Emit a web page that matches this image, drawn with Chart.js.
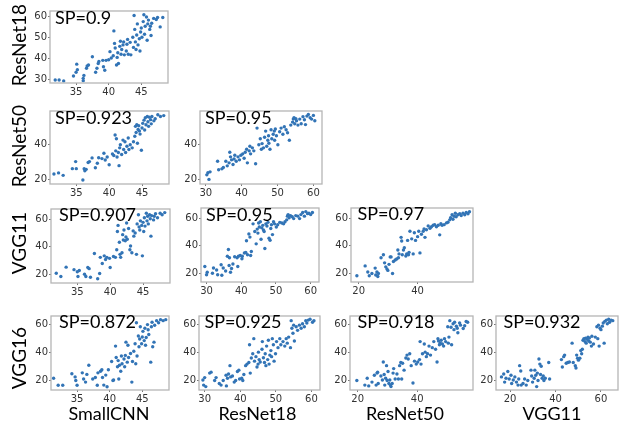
<!DOCTYPE html>
<html>
<head>
<meta charset="utf-8">
<script src="https://cdn.jsdelivr.net/npm/chart.js@4.4.0/dist/chart.umd.min.js"></script>
<style>
body { margin: 0; width: 622px; height: 423px; position: relative; background: #fff; overflow: hidden; font-family: Lato, sans-serif; }
.plot { position: absolute; }
.sp { position: absolute; font-size: 18px; line-height: 18px; color: #000; white-space: nowrap; }
.rowlab { position: absolute; font-size: 19px; line-height: 19px; color: #000; white-space: nowrap; transform: translate(-50%, -50%) rotate(-90deg); }
.collab { position: absolute; font-size: 18px; line-height: 18px; color: #000; white-space: nowrap; transform: translateX(-50%); }
</style>
</head>
<body>
<script>
// Model names (rows / columns of the triangle)
const models = ['SmallCNN', 'ResNet18', 'ResNet50', 'VGG11', 'VGG16'];

// Axis limits per model
const smallcnnRange = [31.0, 49.1];
const resnet18Range = [28.4, 62.4];
const resnet50Range = [17.4, 58.8];
const vgg11Range = [13.8, 67.5];
const vgg16Range = [13.3, 65.9];

// Tick values per model
const smallcnnTicks = [35, 40, 45];
const resnet18Ticks = [30, 40, 50, 60];
const resnet50Ticks = [20, 40];
const vgg11Ticks = [20, 40, 60];
const vgg16Ticks = [20, 40, 60];

// Spearman values shown in each panel
const spValues = ['0.9', '0.923', '0.95', '0.907', '0.95', '0.97', '0.872', '0.925', '0.918', '0.932'];

// Scatter points [x, y]
const smallcnnVsResnet18 = [[31.8,29.8],[32.4,29.8],[33.1,29.4],[34.6,31.7],[35,33.5],[35.1,37.3],[35.2,34.7],[36.1,29.5],[36.1,30.6],[36.2,32],[36.6,35.4],[36.7,36.4],[36.9,36.9],[37.5,40.8],[38,33.5],[38.2,35.4],[38.4,37.6],[38.5,38.6],[39.1,39.1],[39.2,36.1],[39.4,34.4],[39.6,39.1],[40,39.4],[40.2,43.2],[40.4,40.2],[40.7,41.3],[40.8,53],[40.9,47.1],[41,44.9],[41.2,36.9],[41.3,40.5],[41.4,42.7],[41.5,37.6],[41.7,45.7],[41.8,48.1],[41.9,42],[42,44.2],[42.2,46.4],[42.3,47.8],[42.4,41.7],[42.7,43.5],[42.8,46.7],[42.9,49],[43,42],[43.3,47.6],[43.4,41.7],[43.7,50],[43.8,45.2],[43.9,60.3],[44,53.7],[44.1,47.8],[44.2,44.2],[44.3,51.1],[44.4,56.3],[44.5,46.4],[44.7,49.3],[44.8,43.5],[44.9,52.5],[45,54.4],[45.1,50],[45.3,57.4],[45.4,60.6],[45.5,51.4],[45.6,55.2],[45.8,59.6],[45.9,48.6],[46,56.3],[46.1,58.1],[46.3,53.7],[46.4,55.2],[46.5,50.8],[46.6,56.6],[46.9,58.9],[47.3,58.4],[47.5,59.3],[47.9,54.9],[48.3,59.3]];

const smallcnnVsResnet50 = [[31.6,23.1],[32.3,23.7],[33,22.3],[34.4,26.1],[34.9,30.1],[35,26.1],[36,19.7],[36.2,26.1],[36.3,24.9],[36.5,25.7],[36.8,29.6],[37,30.1],[37.4,32.2],[37.9,26.6],[38.2,29.2],[38.4,32.3],[38.9,31.8],[39.2,34.8],[39.4,31],[39.7,32.7],[40,28.3],[40.5,34.4],[40.7,33.6],[40.9,45.2],[41,36.2],[41.1,43.1],[41.2,32.7],[41.4,35.3],[41.5,27.8],[41.6,37.9],[41.7,39.7],[41.9,34.1],[42.1,42.3],[42.2,37],[42.4,41.4],[42.5,35.3],[42.7,38.8],[42.9,43.5],[43,37],[43.2,39.7],[43.5,37.9],[43.7,41.4],[43.9,44.5],[44,50.1],[44.1,46.6],[44.2,51],[44.3,40.5],[44.4,48.3],[44.5,50.4],[44.6,47.5],[44.7,45.7],[44.9,36.5],[45,49.2],[45.1,51.8],[45.3,53.6],[45.4,48],[45.5,55],[45.6,51],[45.8,55.7],[45.9,52.7],[46,50.1],[46.1,55.3],[46.3,53.9],[46.4,51.5],[46.5,55.7],[46.8,53.2],[47,54.4],[47.4,56.7],[47.8,55.7],[48.3,56.2]];

const resnet18VsResnet50 = [[30.3,22.6],[30.6,23.8],[30.9,20],[31.2,24.3],[33.3,30.3],[33.6,25.5],[34.5,26],[34.9,26.8],[35.6,30.3],[36,27.7],[36.5,29.4],[36.7,35.4],[36.9,32.8],[37.2,31.1],[37.6,28.5],[37.9,31.6],[38.1,33.7],[38.5,30.3],[39,32.8],[39.4,31.1],[39.8,33.7],[40.3,34.5],[40.7,32],[41,35.4],[41.4,37.1],[41.6,29.4],[42.1,36.2],[42.3,38.8],[42.5,34.5],[43,37.9],[43.4,36.2],[43.9,28.9],[44.3,49.1],[44.8,39.7],[45.2,43.1],[45.5,37.1],[45.7,40.3],[46.1,37.9],[46.4,43.9],[46.7,47.4],[47,38.8],[47.3,42.2],[47.5,44.8],[47.6,40.5],[47.9,37.1],[48.2,48.2],[48.4,43.1],[48.8,45.6],[49.1,47.4],[49.2,42.2],[49.4,48.6],[49.7,44.8],[50.1,39.7],[50.6,47],[51,49.1],[51.5,45.6],[51.9,49.9],[52.4,48.2],[52.8,46.5],[53.3,42.2],[53.7,50.8],[54.2,52.5],[54.4,54.2],[54.6,55],[54.8,51.6],[55.1,54.5],[55.3,53.3],[55.7,50.8],[56.2,54.2],[56.6,51.6],[57.1,55.6],[57.5,53.8],[57.8,51.1],[58.2,55.9],[58.6,56.8],[59.1,55],[59.5,54.2],[60,56.3],[60.4,53.3]];

const smallcnnVsVgg11 = [[31.8,20.9],[32.5,18.5],[33.3,25.3],[34.5,23.5],[35,22],[35.1,18.5],[35.3,22.9],[36.1,20.2],[36.3,18.5],[36.6,25.1],[36.8,24.2],[37,18],[37.6,35.2],[38.1,16.9],[38.4,20.7],[38.5,32.4],[38.8,28],[39.1,33.5],[39.3,30.8],[39.5,32.4],[39.9,31.7],[40,25.1],[40.5,33],[40.8,32.4],[41,37.9],[41.1,51.2],[41.2,55.6],[41.4,43.4],[41.5,34.6],[41.6,32.4],[41.8,35.7],[41.9,48.9],[42,45],[42.1,52.3],[42.3,44.5],[42.4,47.2],[42.5,57.3],[42.6,45.6],[42.8,53.4],[43,37.9],[43.1,40.6],[43.3,35.7],[43.5,51.6],[43.6,47.8],[43.8,50.1],[44,34.6],[44.1,56.7],[44.3,63.3],[44.4,54.5],[44.5,52.3],[44.6,58.9],[44.8,55.6],[44.9,33.5],[45,57.8],[45.1,51.2],[45.2,61.1],[45.3,55.1],[45.5,64.4],[45.6,58.9],[45.7,62.2],[45.8,56.7],[46,63.3],[46.1,60.4],[46.2,47.8],[46.3,62.7],[46.6,59.6],[46.7,62.2],[46.9,64],[47.2,61.1],[47.6,64.4],[47.9,63.3],[48.3,64.9]];

const resnet18VsVgg11 = [[29.5,25.1],[30,19.1],[30.2,20.9],[31.7,20.2],[32,24],[32.9,22.5],[33.2,19.1],[34.2,26.3],[34.4,18.7],[34.8,24],[35.5,21.8],[36,32.5],[36.3,37.4],[36.5,25.8],[36.6,31.4],[36.9,20.9],[37.2,23.6],[37.6,26.9],[38.1,32.1],[38.8,31.4],[39,25.1],[39.2,32.5],[39.7,33],[40.2,30.7],[40.3,32.5],[40.9,34.8],[41.3,35.2],[41.5,43.7],[41.8,33.6],[42.2,48.6],[42.5,46.4],[42.7,33],[42.9,35.9],[43.4,56],[43.9,50.4],[44.3,41.5],[44.6,52.2],[44.8,49.3],[45,56.6],[45.2,53.7],[45.5,57.5],[45.7,44.8],[45.9,53.1],[46.2,54.9],[46.4,51.5],[46.6,50.4],[46.8,38.1],[47.1,56],[47.4,54.4],[47.7,57.1],[48,45.5],[48.3,44.1],[48.5,52.6],[48.7,55.3],[49,48.2],[49.3,57.5],[49.6,56],[50.1,53.7],[50.5,55.3],[51.1,57.1],[51.7,56.6],[52.2,56],[52.6,57.5],[53.1,58.9],[53.3,61.6],[53.5,62.7],[53.8,60.4],[54.2,62],[54.7,61.1],[55.1,59.8],[55.7,62],[56.3,61.6],[56.8,59.8],[57.2,62.7],[57.7,64.2],[58.2,61.6],[58.6,64.9],[59.1,63.4],[59.5,63.8],[60,62.7],[60.5,64.2]];

const resnet50VsVgg11 = [[19.4,18.3],[22.2,25.5],[23.1,21.1],[23.6,18.3],[24.5,20],[25.6,23.9],[25.8,18.9],[26.2,21.1],[26.5,17.8],[26.7,20],[27.6,31.4],[28.4,33.6],[28.8,27.7],[29.2,24.8],[29.6,23.3],[29.9,22.2],[30.3,26.6],[30.7,32],[31,32],[31.5,20],[31.8,28.7],[32.4,29.8],[32.9,30.5],[33.3,37],[33.5,31.4],[33.7,34.2],[34.4,46.2],[34.6,43.6],[34.8,33.6],[35.2,37],[35.5,38.6],[36,32.7],[36.3,34.2],[36.6,44],[36.9,33.6],[37.1,35.3],[37.4,50.6],[38,45.1],[38.5,34.2],[38.9,49.5],[39.3,44],[40,46.7],[40.4,50.6],[40.8,34.9],[41.3,48.4],[41.9,50.6],[42.2,52.3],[42.5,46.2],[43,51.7],[43.6,54.5],[44.2,52.8],[44.7,53.9],[45.3,55],[45.8,55.4],[46.4,53.9],[47,55],[47.5,48],[47.9,56.1],[48.3,55],[49,55.4],[49.8,56.7],[50.3,57.2],[50.9,58.9],[51.2,60.4],[51.7,62.6],[52,59.3],[52.4,61.5],[52.8,63.7],[53.1,61.1],[53.7,62.6],[54.3,63.3],[54.8,62],[55.4,63.7],[56,62.6],[56.5,64.2],[57.1,63.3],[57.6,64.8]];

const smallcnnVsVgg16 = [[31.4,21.7],[32.1,16.7],[32.8,16.7],[34.2,24.8],[34.7,22.6],[34.8,20],[35,16.7],[35.8,25.5],[36,21.1],[36.3,18.9],[36.5,24.4],[36.8,30.9],[37.4,21.1],[37.8,22.2],[38.1,16.7],[38.2,25.5],[38.6,26.6],[38.8,27.7],[38.9,22.2],[39.1,16.8],[39.4,23.9],[39.6,15.6],[39.8,27.7],[40.3,33.6],[40.5,20],[40.6,20.4],[40.9,44.5],[41,36.4],[41.2,29.8],[41.3,34.2],[41.4,21.1],[41.5,30.9],[41.7,26.6],[41.8,37.5],[41.9,32],[42.2,35.3],[42.3,29.8],[42.4,37.9],[42.5,47.3],[42.7,33.1],[42.8,45.1],[42.9,36.4],[43.2,39.2],[43.4,18.9],[43.5,33.6],[43.7,40.8],[43.9,46.2],[44,32],[44.1,61.1],[44.2,37.5],[44.4,51.7],[44.5,44],[44.6,49.5],[44.7,58.3],[44.9,46.2],[45,51],[45.1,55],[45.3,48.4],[45.4,57.2],[45.5,45.1],[45.6,50.6],[45.8,59.8],[45.9,56.1],[46,52.8],[46.3,33.1],[46.4,58.3],[46.5,61.5],[46.6,44],[46.8,47.3],[46.9,59.3],[47.2,62.6],[47.5,61.1],[47.8,63.3],[48.2,62.6],[48.6,63.3]];

const resnet18VsVgg16 = [[29.5,20.4],[29.7,16.8],[30,22.1],[30.3,15.7],[31.4,25.3],[31.8,26],[32.8,20],[33.2,22.1],[34.1,17.9],[34.6,16.8],[35.2,20],[36,23.8],[36.1,16.2],[36.4,21.7],[36.7,24.7],[37.1,30.6],[37.3,22.6],[37.8,23.2],[38.3,18.9],[38.7,20],[39.2,26.4],[39.6,27.4],[39.8,21.1],[40.4,21.7],[40.7,20],[41,24.3],[41.5,30.6],[41.9,31.7],[42.4,32.8],[42.6,45.5],[42.8,25.3],[43.1,36],[43.5,39.1],[43.8,49.8],[44,33.8],[44.4,37],[44.7,29.6],[45,31.7],[45.1,40.2],[45.3,34.9],[45.6,33.2],[46.1,42.3],[46.2,47.7],[46.5,36.2],[46.8,32.8],[47,39.1],[47.2,30.6],[47.4,44.5],[47.7,34.9],[47.9,48.7],[48.1,31.7],[48.3,38.1],[48.6,41.3],[48.8,37],[49,49.8],[49.3,45.5],[49.5,33.8],[49.9,39.1],[50.2,47.7],[50.6,43.4],[51.1,49.8],[51.4,45.5],[52,47.7],[52.5,44.5],[52.9,49.8],[53.2,46.6],[53.6,50.9],[54.1,43.4],[54.3,62.6],[54.5,57.2],[54.8,53.6],[55,59.4],[55.2,48.1],[55.7,58.3],[56.1,55.7],[56.6,59.4],[57.1,57.2],[57.5,60.4],[58,58.3],[58.4,62.6],[58.7,60.9],[59.1,63],[59.6,63.6],[60.3,61.5],[60.7,62.6]];

const resnet50VsVgg16 = [[19.7,20],[22.4,16.8],[23.2,21.7],[23.7,16.2],[24.8,18.9],[25.6,23.8],[26.2,16.8],[26.5,25.3],[26.7,26],[26.9,17.9],[27.8,23.2],[28.3,20.4],[28.6,33.2],[28.9,24.3],[29.1,16.8],[29.4,21.7],[29.7,30.6],[29.9,20],[30.2,26.4],[30.5,17.9],[30.8,20.4],[31,16.8],[31.2,15.7],[31.6,17.9],[31.9,25.3],[32.1,28.5],[32.6,21.1],[33.2,24.7],[33.7,21.1],[34.1,30.6],[34.5,32.8],[34.8,21.1],[35.1,32.3],[35.6,27.4],[36.2,36],[36.6,38.1],[37,35.3],[37.5,39.1],[38,30.6],[38.6,18.3],[39.1,33.8],[39.7,31.7],[40.2,33.2],[40.8,34.9],[41,47.7],[41.3,31.7],[41.8,39.1],[42.4,46],[42.7,40.2],[43.1,37],[43.5,39.1],[44,44.5],[44.5,38.1],[45.1,43.4],[45.6,47.7],[46.2,42.3],[46.7,33.2],[47,49.8],[47.2,48.1],[47.5,45.5],[47.8,46.6],[48.1,48.7],[48.5,46],[48.9,44.5],[49.2,49.8],[49.6,47.7],[50.3,58.3],[50.5,46.6],[50.7,50.9],[51,62.6],[51.4,57.9],[51.6,45.5],[52.1,60.4],[52.4,56.2],[52.6,61.5],[53.2,58.7],[53.5,57.2],[53.7,54],[54.3,60.9],[54.6,59.4],[55.5,57],[56,59],[56.5,62],[57,61.5]];

const vgg11VsVgg16 = [[16.2,22.6],[17.2,24.7],[17.6,18.9],[18.2,21.7],[19,26.4],[19.6,21.1],[20.4,23.8],[20.7,17.9],[21.4,20.4],[22.1,22.6],[22.8,18.9],[23.5,16.8],[23.8,21.1],[24.2,30.6],[24.7,26.8],[24.9,16.8],[25.7,17.9],[26.4,21.1],[27.1,16.8],[27.8,20],[29.2,27.4],[29.5,23.2],[29.9,18.9],[30.6,21.7],[30.9,27.4],[31.3,23.8],[31.7,15.7],[32,25.3],[32.3,20],[32.7,35.3],[33.1,31.7],[33.4,24.3],[33.7,30.2],[34.1,21.7],[34.6,23.2],[34.9,20],[35.5,21.7],[37,32.8],[37.4,21.1],[42.6,34.9],[43,29.6],[43.6,37],[44,38.1],[44.7,32.3],[45.4,32.8],[46.1,33.2],[47.3,46.6],[47.8,32.8],[48.7,30.6],[49,28.9],[49.3,38.1],[49.7,35.9],[50.1,34.5],[50.7,35.9],[51.1,41.3],[51.5,39.1],[51.8,42.3],[52.1,48.7],[52.5,49.8],[53,47.7],[53.2,50.2],[53.5,46.6],[53.9,49.4],[54.3,50.9],[54.6,48.1],[54.9,50.2],[55.3,47.3],[55.8,44.5],[56,51.5],[56.7,46],[57.5,50.9],[58.2,58.3],[58.6,49.8],[58.9,59.4],[59.2,44.5],[59.6,57.2],[60,56.2],[60.6,58.7],[61,60.9],[61.4,46.6],[61.7,62.1],[62.4,63],[62.8,60.4],[63.4,63.6],[63.8,61.5],[64.5,63],[65.2,62.6]];

// Panel layout: plot box [left, top, right, bottom] in px and SP label offset
const panels = [
  { pts: smallcnnVsResnet18, xr: smallcnnRange, yr: resnet18Range, xt: smallcnnTicks, yt: resnet18Ticks, box: [50, 5, 171, 83], sp: [5, 2.5] },
  { pts: smallcnnVsResnet50, xr: smallcnnRange, yr: resnet50Range, xt: smallcnnTicks, yt: resnet50Ticks, box: [50, 105, 172, 184], sp: [5, 2.5] },
  { pts: resnet18VsResnet50, xr: resnet18Range, yr: resnet50Range, xt: resnet18Ticks, yt: resnet50Ticks, box: [200, 105, 325, 184], sp: [5, 2.5] },
  { pts: smallcnnVsVgg11, xr: smallcnnRange, yr: vgg11Range, xt: smallcnnTicks, yt: vgg11Ticks, box: [51, 203, 173, 283], sp: [8, 1.5] },
  { pts: resnet18VsVgg11, xr: resnet18Range, yr: vgg11Range, xt: resnet18Ticks, yt: vgg11Ticks, box: [201, 202, 322, 282], sp: [5, 2.5] },
  { pts: resnet50VsVgg11, xr: resnet50Range, yr: vgg11Range, xt: resnet50Ticks, yt: vgg11Ticks, box: [351, 202, 476, 282], sp: [6.5, 2] },
  { pts: smallcnnVsVgg16, xr: smallcnnRange, yr: vgg16Range, xt: smallcnnTicks, yt: vgg16Ticks, box: [51, 310, 172, 390], sp: [8, 2] },
  { pts: resnet18VsVgg16, xr: resnet18Range, yr: vgg16Range, xt: resnet18Ticks, yt: vgg16Ticks, box: [199, 310, 323, 390], sp: [5.5, 2] },
  { pts: resnet50VsVgg16, xr: resnet50Range, yr: vgg16Range, xt: resnet50Ticks, yt: vgg16Ticks, box: [350, 310, 476, 390], sp: [7.5, 2] },
  { pts: vgg11VsVgg16, xr: vgg11Range, yr: vgg16Range, xt: vgg11Ticks, yt: vgg16Ticks, box: [496, 310, 621, 390], sp: [7.5, 2] }
];

// Row labels (rotated) and column labels
const rowLabels = [[models[1], 17.5, 45], [models[2], 17.5, 146], [models[3], 17.5, 242.5], [models[4], 17.5, 358]];
const colLabels = [[models[0], 109, 404], [models[1], 257.5, 404], [models[2], 405, 404], [models[3], 552, 404]];

// Light grey frame round the plot area
const framePlugin = {
  id: 'frame',
  afterDraw(chart) {
    const a = chart.chartArea, ctx = chart.ctx;
    ctx.save();
    ctx.strokeStyle = '#b5b5b5';
    ctx.lineWidth = 1.3;
    ctx.strokeRect(a.left, a.top, a.right - a.left, a.bottom - a.top);
    ctx.restore();
  }
};

const yAxisW = 30, xAxisH = 16, padT = 1, padR = 1;
const tickFont = { family: 'DejaVu Sans', size: 10 };

panels.forEach((p, i) => {
  const [l, t, r, b] = p.box;
  const div = document.createElement('div');
  div.className = 'plot';
  div.style.left = (l - yAxisW) + 'px';
  div.style.top = (t - padT) + 'px';
  div.style.width = (r - l + yAxisW + padR) + 'px';
  div.style.height = (b - t + padT + xAxisH) + 'px';
  const canvas = document.createElement('canvas');
  div.appendChild(canvas);
  document.body.appendChild(div);

  new Chart(canvas, {
    type: 'scatter',
    data: {
      datasets: [{
        data: p.pts.map(([x, y]) => ({ x, y })),
        backgroundColor: '#3274b6',
        borderWidth: 0,
        pointRadius: 1.7
      }]
    },
    options: {
      responsive: true,
      maintainAspectRatio: false,
      animation: false,
      events: [],
      layout: { padding: { top: padT, right: padR, left: 0, bottom: 0 } },
      plugins: { legend: { display: false }, tooltip: { enabled: false } },
      scales: {
        x: {
          type: 'linear',
          min: p.xr[0], max: p.xr[1],
          afterBuildTicks: s => { s.ticks = p.xt.map(v => ({ value: v })); },
          afterFit: s => { s.height = xAxisH; },
          grid: { drawOnChartArea: false, tickLength: 2, color: '#777' },
          border: { display: false },
          ticks: { padding: 1, color: '#333', font: tickFont, maxRotation: 0 }
        },
        y: {
          type: 'linear',
          min: p.yr[0], max: p.yr[1],
          afterBuildTicks: s => { s.ticks = p.yt.map(v => ({ value: v })); },
          afterFit: s => { s.width = yAxisW; },
          grid: { drawOnChartArea: false, tickLength: 2, color: '#777' },
          border: { display: false },
          ticks: { padding: 1, color: '#333', font: tickFont }
        }
      }
    },
    plugins: [framePlugin]
  });

  const sp = document.createElement('div');
  sp.className = 'sp';
  sp.textContent = 'SP=' + spValues[i];
  sp.style.left = (l + p.sp[0]) + 'px';
  sp.style.top = (t + p.sp[1]) + 'px';
  document.body.appendChild(sp);
});

rowLabels.forEach(([txt, x, y]) => {
  const d = document.createElement('div');
  d.className = 'rowlab';
  d.textContent = txt;
  d.style.left = x + 'px';
  d.style.top = y + 'px';
  document.body.appendChild(d);
});

colLabels.forEach(([txt, x, y]) => {
  const d = document.createElement('div');
  d.className = 'collab';
  d.textContent = txt;
  d.style.left = x + 'px';
  d.style.top = y + 'px';
  document.body.appendChild(d);
});
</script>
</body>
</html>
